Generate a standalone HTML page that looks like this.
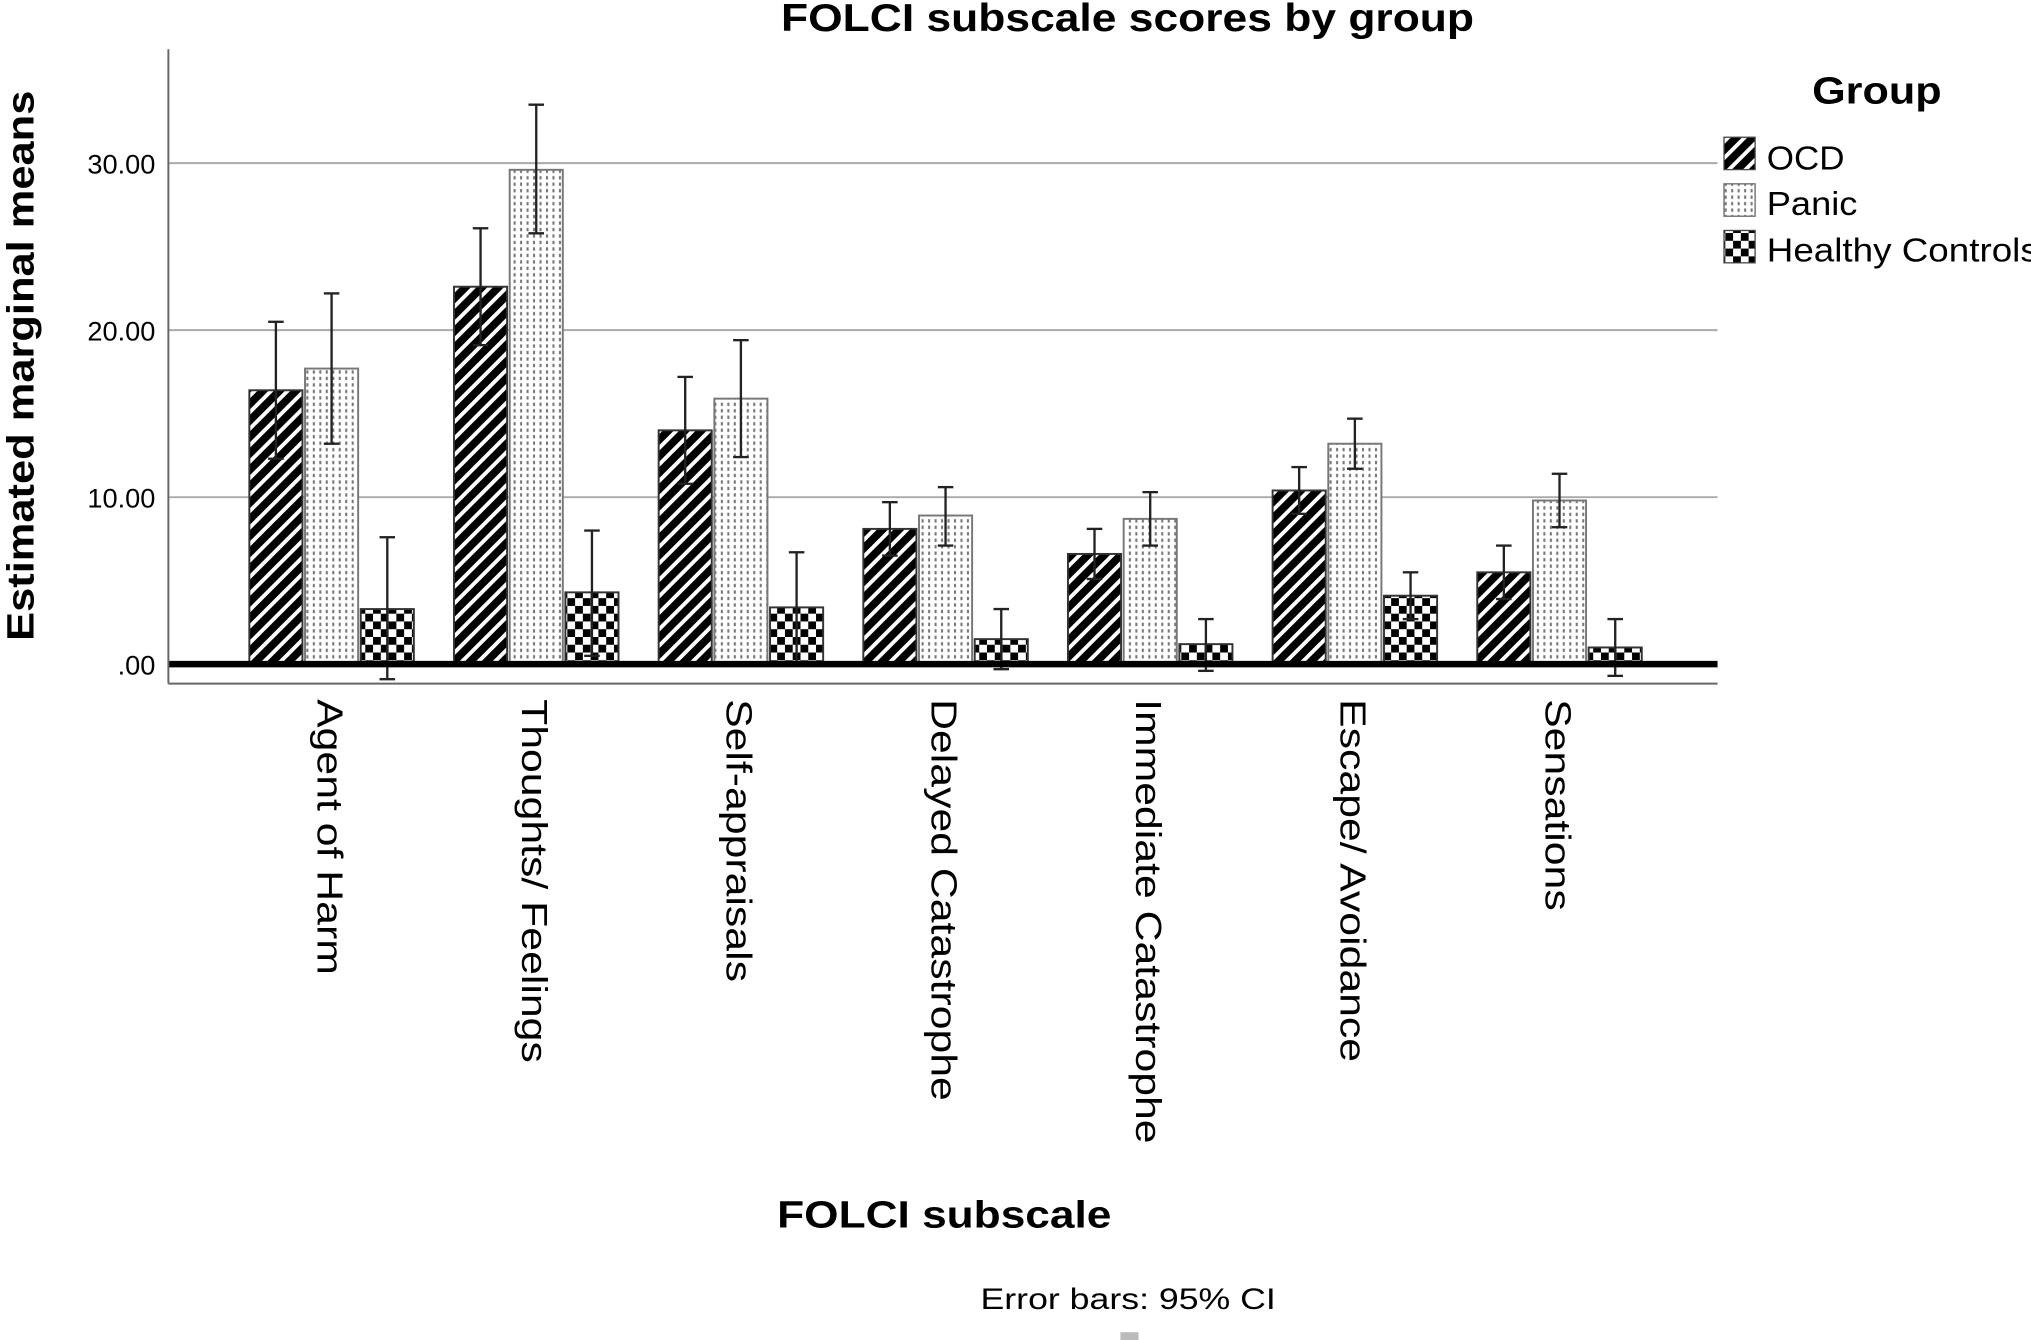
<!DOCTYPE html>
<html><head><meta charset="utf-8"><style>
html,body{margin:0;padding:0;background:#fff;}
svg{display:block;}
text{font-family:"Liberation Sans",Arial,sans-serif;}
</style></head><body>
<svg id="chart" width="2031" height="1340" viewBox="0 0 1568 1035" preserveAspectRatio="none" xmlns="http://www.w3.org/2000/svg">
<defs>
<pattern id="pOCD" patternUnits="userSpaceOnUse" width="9" height="9" patternTransform="rotate(45)">
<rect width="9" height="9" fill="#000"/><rect x="0" y="0" width="3" height="9" fill="#fff"/>
</pattern>
<pattern id="pPanic" patternUnits="userSpaceOnUse" width="5" height="5">
<rect width="5" height="5" fill="#fff"/><rect x="1.5" y="1" width="1.6" height="2.6" fill="#777"/>
</pattern>
<pattern id="pHC" patternUnits="userSpaceOnUse" width="12" height="12">
<rect width="12" height="12" fill="#fff"/><rect width="6" height="6" fill="#000"/><rect x="6" y="6" width="6" height="6" fill="#000"/>
</pattern>
</defs>
<text x="603" y="24" font-size="30" font-weight="bold" textLength="535" lengthAdjust="spacingAndGlyphs">FOLCI subscale scores by group</text>
<g id="grid"></g>
<g id="bars"></g>
<g id="ylabels"></g>
<g id="xlabels"></g>
<line x1="130" y1="38" x2="130" y2="528" stroke="#666" stroke-width="1.5"/>
<line x1="130" y1="528" x2="1326" y2="528" stroke="#666" stroke-width="1.5"/>
<text transform="translate(26,495) rotate(-90)" font-size="29" font-weight="bold" textLength="425" lengthAdjust="spacingAndGlyphs">Estimated marginal means</text>
<text x="600" y="948" font-size="29" font-weight="bold" textLength="258" lengthAdjust="spacingAndGlyphs">FOLCI subscale</text>
<text x="757" y="1011" font-size="23" textLength="228" lengthAdjust="spacingAndGlyphs">Error bars: 95% CI</text>
<rect x="865" y="1029" width="14" height="6" fill="#bbb"/>
<g>
<text x="1399" y="80" font-size="29" font-weight="bold" textLength="100" lengthAdjust="spacingAndGlyphs">Group</text>
<g><rect x="1331" y="106" width="24" height="25" fill="url(#pOCD)" stroke="#444"/><text x="1364" y="131" font-size="26" textLength="60" lengthAdjust="spacingAndGlyphs">OCD</text></g>
<g><rect x="1331" y="142" width="24" height="25" fill="url(#pPanic)" stroke="#666"/><text x="1364" y="166" font-size="26" textLength="70" lengthAdjust="spacingAndGlyphs">Panic</text></g>
<g><rect x="1331" y="178" width="24" height="25" fill="url(#pHC)" stroke="#444"/><text x="1364" y="202" font-size="26" textLength="210" lengthAdjust="spacingAndGlyphs">Healthy Controls</text></g>
</g>
</svg>
<script>
const categories = ["Agent of Harm","Thoughts/ Feelings","Self-appraisals","Delayed Catastrophe","Immediate Catastrophe","Escape/ Avoidance","Sensations"];
const ocdMeans = [16.4,22.6,14.0,8.1,6.6,10.4,5.5];
const ocdLow = [12.3,19.1,10.8,6.5,5.1,9.0,3.9];
const ocdHigh = [20.5,26.1,17.2,9.7,8.1,11.8,7.1];
const panicMeans = [17.7,29.6,15.9,8.9,8.7,13.2,9.8];
const panicLow = [13.2,25.8,12.4,7.1,7.1,11.7,8.2];
const panicHigh = [22.2,33.5,19.4,10.6,10.3,14.7,11.4];
const hcMeans = [3.3,4.3,3.4,1.5,1.2,4.1,1.0];
const hcLow = [-0.9,0.5,0.1,-0.3,-0.4,2.7,-0.7];
const hcHigh = [7.6,8.0,6.7,3.3,2.7,5.5,2.7];
const yTicks = [0,10,20,30];
const yTickLabels = [".00","10.00","20.00","30.00"];

const NS="http://www.w3.org/2000/svg";
function y(v){return 513-(v/10)*129;}
function groupCenter(i){return 256+i*158;}
function mk(tag,attrs,parent){const e=document.createElementNS(NS,tag);for(const k in attrs)e.setAttribute(k,attrs[k]);parent.appendChild(e);return e;}
const grid=document.getElementById('grid'),bars=document.getElementById('bars'),yl=document.getElementById('ylabels'),xl=document.getElementById('xlabels');
yTicks.forEach((t,i)=>{
  if(t!==0){const l=mk('line',{x1:130,x2:1326,y1:y(t),y2:y(t),stroke:'#aaa','stroke-width':1.5},grid);
  
  }
  const tx=mk('text',{x:120,y:y(t)+8,'font-size':21,'text-anchor':'end'},yl);
  tx.textContent=yTickLabels[i];
  
  
});
const series=[
 {name:'ocd',m:ocdMeans,lo:ocdLow,hi:ocdHigh,fill:'url(#pOCD)',off:-43},
 {name:'panic',m:panicMeans,lo:panicLow,hi:panicHigh,fill:'url(#pPanic)',off:0},
 {name:'hc',m:hcMeans,lo:hcLow,hi:hcHigh,fill:'url(#pHC)',off:43}];
const bw=41;
categories.forEach((c,i)=>{
  series.forEach(s=>{
    const cx=groupCenter(i)+s.off;
    const r=mk('rect',{x:cx-bw/2,y:y(s.m[i]),width:bw,height:y(0)-y(s.m[i]),fill:s.fill,stroke:s.name==='panic'?'#777':'#333','stroke-width':1.5},bars);
    
    
    const g=mk('g',{stroke:'#222','stroke-width':1.8},bars);
    
    
    mk('line',{x1:cx,x2:cx,y1:y(s.hi[i]),y2:y(s.lo[i])},g);
    mk('line',{x1:cx-6,x2:cx+6,y1:y(s.hi[i]),y2:y(s.hi[i])},g);
    mk('line',{x1:cx-6,x2:cx+6,y1:y(s.lo[i]),y2:y(s.lo[i])},g);
  });
  const t=mk('text',{transform:'translate('+(groupCenter(i)-11)+',540) rotate(90) scale(1.18,1)','font-size':28},xl);
  t.textContent=c;
  
  
});
const zl=mk('line',{x1:130,x2:1326,y1:y(0),y2:y(0),stroke:'#000','stroke-width':5},bars);


</script>
</body></html>
